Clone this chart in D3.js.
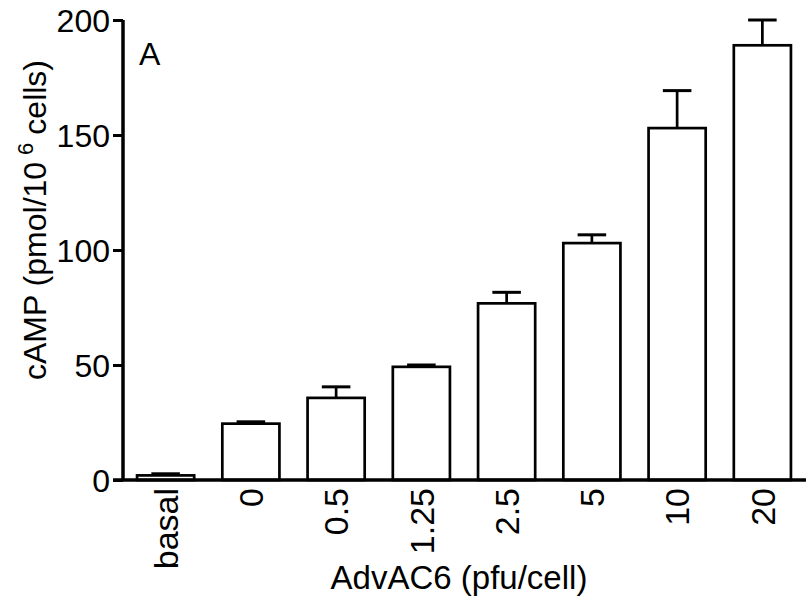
<!DOCTYPE html>
<html>
<head>
<meta charset="utf-8">
<script src="https://cdn.jsdelivr.net/npm/d3@7"></script>
<style>
  body { margin: 0; background: #fff; }
  svg text { font-family: "Liberation Sans", Arial, sans-serif; fill: #000; }
</style>
</head>
<body>
<svg id="chart" width="807" height="604"></svg>
<script>
// data
const doses = ["basal", "0", "0.5", "1.25", "2.5", "5", "10", "20"];
const camp = [2.0, 24.5, 35.7, 49.2, 76.8, 103, 153, 189];
const sem = [0.7, 0.8, 4.8, 0.8, 4.8, 3.6, 16.3, 11];
const yTicks = [0, 50, 100, 150, 200];

const svg = d3.select("#chart");
const plotL = 123, plotR = 805, plotT = 20, plotB = 480;

const x = d3.scaleBand().domain(doses).range([plotL, plotR])
  .paddingInner(0.33).paddingOuter(0.165);
const y = d3.scaleLinear().domain([0, 200]).range([plotB, plotT]);

const rows = doses.map((d, i) => ({ dose: d, v: camp[i], e: sem[i] }));

// bars
svg.append("g").attr("class", "bars")
  .selectAll("rect")
  .data(rows)
  .enter()
  .append("rect")
  .attr("x", d => x(d.dose))
  .attr("y", d => y(d.v))
  .attr("width", x.bandwidth())
  .attr("height", d => y(0) - y(d.v))
  .attr("fill", "#fff")
  .attr("stroke", "#000")
  .attr("stroke-width", 2.7);

// error bars (upper only)
const err = svg.append("g").attr("class", "errs")
  .selectAll("g")
  .data(rows)
  .enter()
  .append("g")
  .attr("transform", d => "translate(" + (x(d.dose) + x.bandwidth() / 2) + ",0)");
err.append("line")
  .attr("x1", 0).attr("x2", 0)
  .attr("y1", d => y(d.v)).attr("y2", d => y(d.v + d.e))
  .attr("stroke", "#000").attr("stroke-width", 2.7);
err.append("line")
  .attr("x1", -x.bandwidth() / 4).attr("x2", x.bandwidth() / 4)
  .attr("y1", d => y(d.v + d.e)).attr("y2", d => y(d.v + d.e))
  .attr("stroke", "#000").attr("stroke-width", 3);

// y axis
const yAxis = svg.append("g")
  .attr("transform", "translate(" + plotL + ",0)")
  .call(d3.axisLeft(y).tickValues(yTicks).tickSize(10).tickPadding(3));
yAxis.select(".domain").attr("d", "M0," + plotT + "V" + plotB)
  .attr("stroke-width", 3.5);
yAxis.selectAll(".tick line").attr("stroke-width", 3);
yAxis.selectAll("text").style("font-size", "32px")
  .style("font-family", "Liberation Sans, Arial, sans-serif").attr("dy", "0.36em");

// x axis
const xAxis = svg.append("g")
  .attr("transform", "translate(0," + plotB + ")")
  .call(d3.axisBottom(x).tickSize(0));
xAxis.select(".domain").attr("d", "M" + (plotL - 10) + ",0H806")
  .attr("stroke-width", 3.5);
xAxis.selectAll("text")
  .style("font-size", "34px")
  .style("font-family", "Liberation Sans, Arial, sans-serif")
  .attr("text-anchor", "end")
  .attr("transform", "rotate(-90)")
  .attr("x", -8)
  .attr("y", 0)
  .attr("dy", "0.36em");

// axis titles
const yTitle = svg.append("text")
  .attr("transform", "translate(46,220) rotate(-90)")
  .attr("text-anchor", "middle")
  .style("font-size", "32px");
yTitle.append("tspan").text("cAMP (pmol/10");
yTitle.append("tspan").attr("dx", 7).attr("dy", -13).style("font-size", "22px").text("6");
yTitle.append("tspan").attr("dx", 8).attr("dy", 13).text("cells)");

svg.append("text")
  .attr("x", 459).attr("y", 589)
  .attr("text-anchor", "middle")
  .style("font-size", "33px")
  .text("AdvAC6 (pfu/cell)");

// panel letter
svg.append("text")
  .attr("x", 139).attr("y", 65)
  .style("font-size", "32px")
  .text("A");
</script>
</body>
</html>
